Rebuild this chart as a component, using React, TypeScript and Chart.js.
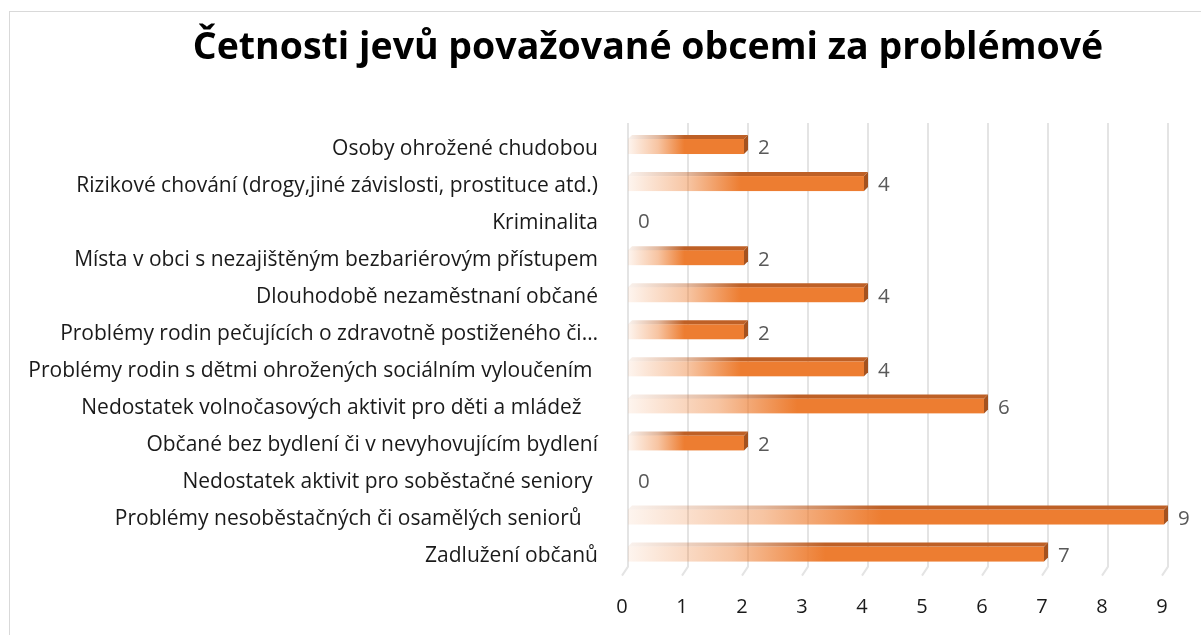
import React, { useEffect, useRef } from "react";
import { Chart, registerables } from "chart.js";

Chart.register(...registerables);

const TITLE = "Četnosti jevů považované obcemi za problémové";

const categories = [
  "Osoby ohrožené chudobou",
  "Rizikové chování (drogy,jiné závislosti, prostituce atd.)",
  "Kriminalita",
  "Místa v obci s nezajištěným bezbariérovým přístupem",
  "Dlouhodobě nezaměstnaní občané",
  "Problémy rodin pečujících o zdravotně postiženého či…",
  "Problémy rodin s dětmi ohrožených sociálním vyloučením ",
  "Nedostatek volnočasových aktivit pro děti a mládež   ",
  "Občané bez bydlení či v nevyhovujícím bydlení",
  "Nedostatek aktivit pro soběstačné seniory ",
  "Problémy nesoběstačných či osamělých seniorů   ",
  "Zadlužení občanů",
];

const values = [2, 4, 0, 2, 4, 2, 4, 6, 2, 0, 9, 7];

const xTicks = [0, 1, 2, 3, 4, 5, 6, 7, 8, 9];

const FONT = "'Open Sans'";

const decorPlugin = {
  id: "decor",
  beforeDraw(chart: any) {
    const ctx = chart.ctx;
    ctx.save();
    ctx.fillStyle = "#ffffff";
    ctx.fillRect(0, 0, chart.width, chart.height);
    ctx.strokeStyle = "#d9d9d9";
    ctx.lineWidth = 1;
    ctx.strokeRect(9.5, 11.5, 2000, 2000);
    // title
    ctx.fillStyle = "#000000";
    ctx.font = `bold 37.5px ${FONT}`;
    ctx.textAlign = "center";
    ctx.textBaseline = "middle";
    ctx.fillText(TITLE, 648, 48);
    ctx.restore();
  },
  beforeDatasetsDraw(chart: any) {
    const ctx = chart.ctx;
    const xs = chart.scales.x;
    const area = chart.chartArea;
    ctx.save();
    ctx.strokeStyle = "#e4e4e4";
    ctx.lineWidth = 2;
    const top = area.top - 7;
    const bend = area.bottom - 8;
    const foot = area.bottom + 1;
    xTicks.forEach((t) => {
      const x = xs.getPixelForValue(t);
      ctx.beginPath();
      ctx.moveTo(x, top);
      ctx.lineTo(x, bend);
      ctx.lineTo(x - 6, foot);
      ctx.stroke();
    });
    ctx.restore();
  },
  afterDatasetsDraw(chart: any) {
    const ctx = chart.ctx;
    const meta = chart.getDatasetMeta(0);
    const d = 4;
    ctx.save();
    meta.data.forEach((bar: any, i: number) => {
      const { x, y, base } = bar.getProps(["x", "y", "base"], true);
      const h = 19;
      const yc = y - 4;
      const t = yc - h / 2;
      const b = yc + h / 2;
      if (x - base > d + 1) {
        // front face
        const g = ctx.createLinearGradient(base, 0, x, 0);
        g.addColorStop(0, "rgba(237,125,49,0.08)");
        g.addColorStop(0.08, "rgba(237,125,49,0.2)");
        g.addColorStop(0.25, "rgba(237,125,49,0.45)");
        g.addColorStop(0.47, "rgba(237,125,49,1)");
        g.addColorStop(1, "rgba(237,125,49,1)");
        ctx.fillStyle = g;
        ctx.fillRect(base, t + d, x - d - base, h - d);
        // top face
        const g2 = ctx.createLinearGradient(base, 0, x, 0);
        g2.addColorStop(0, "rgba(190,96,38,0.08)");
        g2.addColorStop(0.25, "rgba(190,96,38,0.45)");
        g2.addColorStop(0.47, "rgba(190,96,38,1)");
        g2.addColorStop(1, "rgba(190,96,38,1)");
        ctx.fillStyle = g2;
        ctx.beginPath();
        ctx.moveTo(base, t + d);
        ctx.lineTo(base + d, t);
        ctx.lineTo(x, t);
        ctx.lineTo(x - d, t + d);
        ctx.closePath();
        ctx.fill();
        // side face
        ctx.fillStyle = "#a4521f";
        ctx.beginPath();
        ctx.moveTo(x - d, t + d);
        ctx.lineTo(x, t);
        ctx.lineTo(x, b - d);
        ctx.lineTo(x - d, b);
        ctx.closePath();
        ctx.fill();
      }
      // value label
      ctx.fillStyle = "#595959";
      ctx.font = `20.5px ${FONT}`;
      ctx.textAlign = "left";
      ctx.textBaseline = "middle";
      ctx.fillText(String(values[i]), x + 10, y);
    });
    ctx.restore();
  },
};

export default function App() {
  const ref = useRef<HTMLCanvasElement>(null);
  useEffect(() => {
    document.body.style.margin = "0";
    const canvas = ref.current!;
    const chart = new Chart(canvas, {
      type: "bar",
      data: {
        labels: categories,
        datasets: [
          {
            data: values,
            backgroundColor: "rgba(0,0,0,0)",
            borderWidth: 0,
          },
        ],
      },
      options: {
        indexAxis: "y",
        animation: false,
        responsive: false,
        maintainAspectRatio: false,
        layout: { padding: { top: 130, left: 0, right: 33, bottom: 0 } },
        plugins: {
          legend: { display: false },
          title: { display: false },
          tooltip: { enabled: false },
        },
        scales: {
          x: {
            type: "linear",
            min: 0,
            max: 9,
            grid: { display: false, drawTicks: false },
            border: { display: false },
            afterFit: (s: any) => {
              s.height = 60.4;
            },
            ticks: {
              stepSize: 1,
              padding: 21,
              labelOffset: -6,
              color: "#1a1a1a",
              font: { family: FONT, size: 20 },
            },
          },
          y: {
            type: "category",
            grid: { display: false, drawTicks: false },
            border: { display: false },
            afterFit: (s: any) => {
              s.width = 628;
            },
            ticks: {
              autoSkip: false,
              padding: 30,
              color: "#1a1a1a",
              font: { family: FONT, size: 21 },
            },
          },
        },
      },
      plugins: [decorPlugin],
    });
    return () => chart.destroy();
  }, []);
  return <canvas ref={ref} width={1201} height={635} style={{ display: "block" }} />;
}
